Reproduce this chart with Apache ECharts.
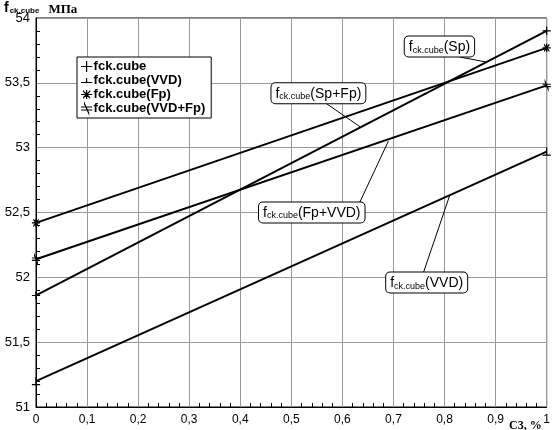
<!DOCTYPE html>
<html>
<head>
<meta charset="utf-8">
<script src="https://cdn.jsdelivr.net/npm/echarts@6/dist/echarts.min.js"></script>
<style>
  html, body { margin: 0; padding: 0; background: #fff; }
  #chart { width: 553px; height: 430px; }
</style>
</head>
<body>
<div id="chart"></div>
<script>
// each line is straight, given by its two ends (x = 0 and x = 1)
const xEnds = [0, 1];
const seriesNames = ['fck.cube', 'fck.cube(VVD)', 'fck.cube(Fp)', 'fck.cube(VVD+Fp)'];
const valSp = [51.86, 53.9];
const valVVD = [51.2, 52.97];
const valFp = [52.42, 53.77];
const valVVDFp = [52.14, 53.48];
const yTicks = [51, 51.5, 52, 52.5, 53, 53.5, 54];

// callout labels (data coords): box centre, pointer start, pointer end
const annoText = ['Sp', 'Sp+Fp', 'Fp+VVD', 'VVD'];
const annoBox = [[0.79, 53.78], [0.553, 53.42], [0.54, 52.5], [0.765, 51.96]];
const annoFrom = [[0.829, 53.70], [0.565, 53.35], [0.633, 52.57], [0.759, 52.04]];
const annoTo = [[0.882, 53.66], [0.635, 53.16], [0.69, 53.05], [0.81, 52.63]];

const symPlus = 'path://M0,5L10,5L10,5.01L0,5.01ZM5,0L5.01,0L5.01,10L5,10Z';
const symTee = 'path://M0,7L10,7L10,7.01L0,7.01ZM5,3L5.01,3L5.01,7L5,7Z';
const symStar = 'path://M0,5L10,5L10,5.01L0,5.01ZM5,1L5.01,1L5.01,9L5,9ZM2,2L8,8L8,8.01L2,2.01ZM8,2L2,8L2,8.01L8,2.01Z';
const symS = 'path://M0,4L10,4L10,4.01L0,4.01ZM0,7L10,7L10,7.01L0,7.01ZM3,1L7,10L7,10.01L3,1.01Z';
const symbols = [symPlus, symTee, symStar, symS];
const values = [valSp, valVVD, valFp, valVVDFp];

const chart = echarts.init(document.getElementById('chart'));

function fmt(v) {
    return String(Math.round(v * 10) / 10).replace('.', ',');
}

const series = seriesNames.map((name, i) => ({
    name: name,
    type: 'line',
    data: xEnds.map((x, j) => [x, values[i][j]]),
    symbol: symbols[i],
    symbolSize: 7,
    showSymbol: true,
    lineStyle: { color: '#000', width: 2 },
    itemStyle: { color: '#000', borderColor: '#000', borderWidth: 1.2 },
    emphasis: { disabled: true },
    animation: false,
    clip: false
}));

const option = {
    animation: false,
    grid: { left: 36, right: 2, top: 18, bottom: 23, show: true, borderColor: '#000', borderWidth: 1 },
    legend: {
        orient: 'vertical',
        left: 77,
        top: 57,
        backgroundColor: '#fff',
        borderColor: '#000',
        borderWidth: 1,
        borderRadius: 0,
        padding: [3, 6, 3, 4],
        itemGap: 1,
        itemWidth: 10,
        itemHeight: 10,
        data: seriesNames.map((n, i) => ({ name: n, icon: symbols[i], itemStyle: { color: '#000', borderColor: '#000', borderWidth: 1.2 } })),
        textStyle: { fontFamily: 'Liberation Sans, Arial', fontWeight: 'bold', fontSize: 13, color: '#000', padding: [0, 0, 0, -3] }
    },
    xAxis: {
        type: 'value',
        min: 0, max: 1, interval: 0.1,
        axisLine: { show: true, lineStyle: { color: '#000', width: 1 } },
        axisTick: { show: false },
        minorTick: { show: true, splitNumber: 5, length: -4, lineStyle: { color: '#000' } },
        axisLabel: { formatter: fmt, color: '#000', fontFamily: 'Liberation Sans, Arial', fontSize: 12, margin: 7 },
        splitLine: { show: true, lineStyle: { color: '#999', width: 1 } }
    },
    yAxis: {
        type: 'value',
        min: 51, max: 54, interval: 0.5,
        axisLine: { show: true, lineStyle: { color: '#000', width: 1 } },
        axisTick: { show: false },
        minorTick: { show: true, splitNumber: 5, length: -4, lineStyle: { color: '#000' } },
        axisLabel: {
            formatter: v => yTicks.includes(v) ? fmt(v) : '',
            color: '#000', fontFamily: 'Liberation Sans, Arial', fontSize: 13, margin: 6
        },
        splitLine: { show: true, lineStyle: { color: '#999', width: 1 } }
    },
    series: series
};

chart.setOption(option);

const graphics = [];
annoText.forEach((t, i) => {
    const b = chart.convertToPixel({ gridIndex: 0 }, annoBox[i]);
    const p0 = chart.convertToPixel({ gridIndex: 0 }, annoFrom[i]);
    const p1 = chart.convertToPixel({ gridIndex: 0 }, annoTo[i]);
    graphics.push({
        type: 'line',
        shape: { x1: p0[0], y1: p0[1], x2: p1[0], y2: p1[1] },
        style: { stroke: '#000', lineWidth: 1 },
        z: 100
    });
    graphics.push({
        type: 'text',
        x: b[0], y: b[1],
        z: 101,
        style: {
            text: '{f|f}{s|ck.cube}{f|(' + t + ')}',
            align: 'center',
            verticalAlign: 'middle',
            backgroundColor: '#fff',
            borderColor: '#000',
            borderWidth: 1,
            borderRadius: 4,
            padding: [3, 4, 2, 4],
            rich: {
                f: { fontFamily: 'Liberation Sans, Arial', fontSize: 14, fill: '#000', color: '#000' },
                s: { fontFamily: 'Liberation Sans, Arial', fontSize: 9, fill: '#000', color: '#000', padding: [6, 0, 0, 0] }
            }
        }
    });
});

// axis titles
graphics.push({
    type: 'text', x: 4, y: 0, z: 101,
    style: {
        text: '{f|f}{s|ck.cube}{m|МПа}',
        rich: {
            f: { fontFamily: 'Liberation Sans, Arial', fontSize: 14, fontWeight: 'bold', fill: '#000', color: '#000' },
            s: { fontFamily: 'Liberation Sans, Arial', fontSize: 8, fontWeight: 'bold', fill: '#000', color: '#000', padding: [6, 0, 0, 1] },
            m: { fontFamily: 'Liberation Serif, Times New Roman', fontSize: 13, fontWeight: 'bold', fill: '#000', color: '#000', padding: [3, 0, 0, 9] }
        }
    }
});
graphics.push({
    type: 'text', x: 509, y: 420, z: 101,
    style: {
        text: 'С3, %',
        fontFamily: 'Liberation Serif, Times New Roman',
        fontSize: 12,
        fontWeight: 'bold',
        fill: '#000',
        backgroundColor: '#fff'
    }
});

chart.setOption({ graphic: graphics });
</script>
</body>
</html>
